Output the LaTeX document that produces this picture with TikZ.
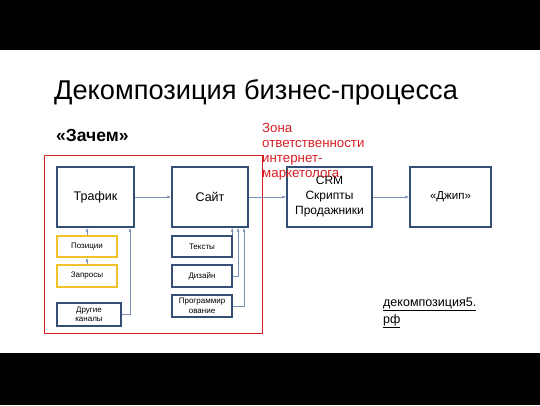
\documentclass[tikz,border=0pt]{standalone}
\usepackage{fontspec}
\setmainfont{Liberation Sans}
\usetikzlibrary{arrows.meta}
\definecolor{boxblue}{RGB}{52,78,118}
\definecolor{goldy}{RGB}{240,196,40}
\definecolor{linec}{RGB}{120,145,180}
\definecolor{zred}{RGB}{215,30,35}
\tikzset{
  bigbox/.style={draw=boxblue,line width=1.4pt,fill=white,minimum height=60pt,inner sep=0pt,font=\fontsize{12.5}{15}\selectfont,align=center},
  smallbox/.style={draw=boxblue,line width=1.4pt,fill=white,minimum width=60pt,minimum height=21pt,inner sep=0pt,font=\fontsize{8}{10}\selectfont,align=center},
  yellowbox/.style={smallbox,draw=goldy},
  arr/.style={draw=linec,line width=0.7pt,-{Latex[length=4pt,width=3pt]}}
}
\begin{document}
\begin{tikzpicture}[x=1pt,y=-1pt]
\useasboundingbox (0,0) rectangle (540,405);
\fill[black] (0,0) rectangle (540,50);
\fill[black] (0,353) rectangle (540,405);

\node[anchor=base west,inner sep=0pt,font=\fontsize{27.2}{32}\selectfont] (title) at (54,99) {Декомпозиция бизнес-процесса};
\node[anchor=base west,inner sep=0pt,font=\fontsize{17.5}{20}\selectfont\bfseries] (why) at (56,141) {«Зачем»};

\draw[zred,line width=0.8pt] (44,155) rectangle (262,333);

\node[bigbox,minimum width=77pt] (traf) at (95.5,197) {Трафик};
\node[bigbox,minimum width=76pt] (sait) at (210,197) {Сайт};
\node[bigbox,minimum width=85pt,font=\fontsize{12}{15}\selectfont] (crm) at (329.5,197) {CRM\\Скрипты\\Продажники};
\node[bigbox,minimum width=81pt,font=\fontsize{11.5}{14}\selectfont] (jeep) at (450.5,197) {«Джип»};

\node[anchor=north west,inner sep=0pt,align=left,text=zred,font=\fontsize{13.3}{15}\selectfont] (zone) at (262,123.5) {Зона\\ответственности\\интернет-\\маркетолога};

\node[yellowbox] (poz) at (87,246.5) {Позиции};
\node[yellowbox,minimum height=22pt] (zap) at (87,276) {Запросы};
\node[smallbox,minimum width=64pt,minimum height=23pt,font=\fontsize{8}{9.5}\selectfont] (drug) at (89,314.5) {Другие\\каналы};

\node[smallbox] (tek) at (202,246.5) {Тексты};
\node[smallbox,minimum height=22pt] (diz) at (202,276) {Дизайн};
\node[smallbox,minimum height=22pt,font=\fontsize{8}{10.5}\selectfont] (prog) at (202,306) {Программир\\ование};

\draw[arr] (traf) -- (sait);
\draw[arr] (sait) -- (crm);
\draw[arr] (crm) -- (jeep);

\draw[arr] (poz.north) -- (poz.north |- traf.south);
\draw[arr] (zap.north) -- (poz.south);
\draw[arr] (drug.east) -| ([xshift=34.5pt]traf.south);

\draw[arr] ([xshift=-0.5pt]tek.north east) -- ([xshift=-0.5pt]tek.north east |- sait.south);
\draw[arr] (diz.east) -| ([xshift=28pt]sait.south);
\draw[arr] (prog.east) -| ([xshift=34pt]sait.south);

\node[anchor=base west,inner sep=0pt,align=left,font=\fontsize{12.5}{17}\selectfont] (site) at (383,323) {\underline{декомпозиция5.}\\\underline{рф}};
\end{tikzpicture}
\end{document}
